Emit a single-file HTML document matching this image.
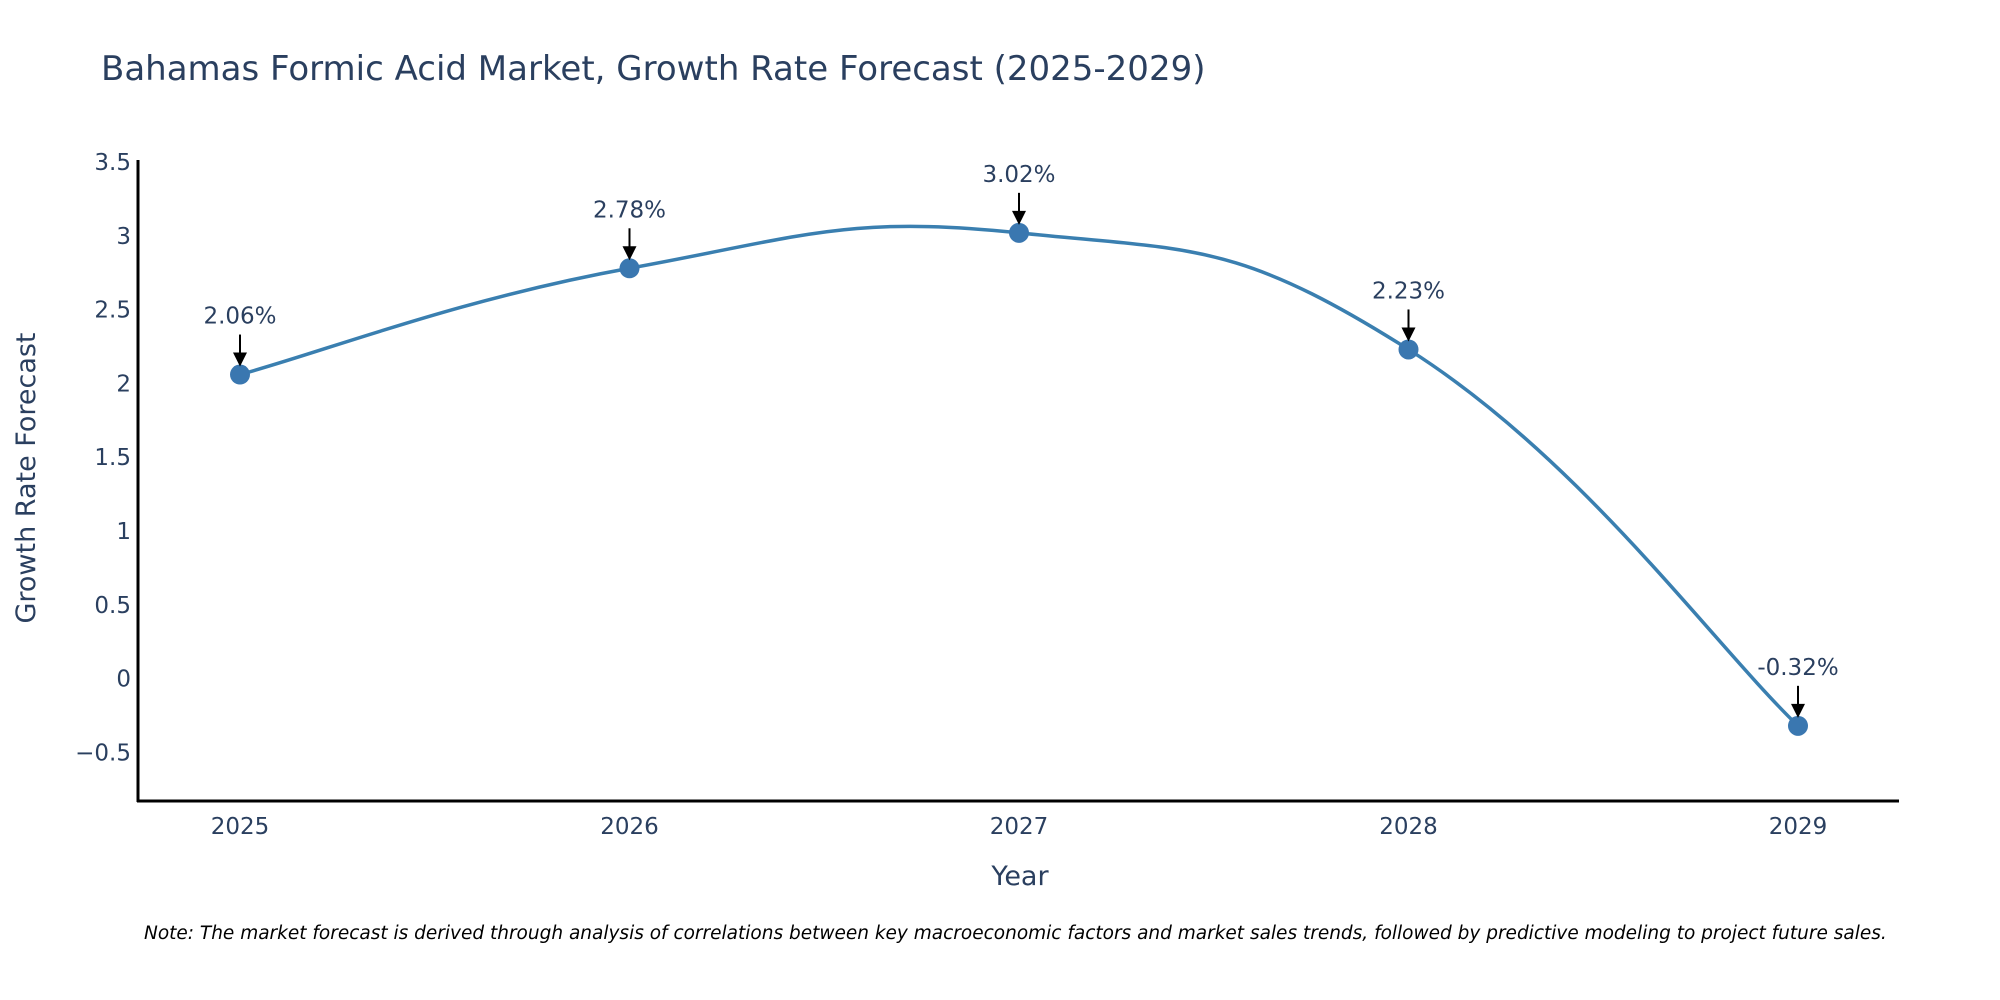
<!DOCTYPE html>
<html><head><meta charset="utf-8"><style>
body{margin:0;background:#fff;overflow:hidden;}
svg{display:block;font-family:"DejaVu Sans","Liberation Sans",sans-serif;}
</style></head><body>
<svg id="chart" width="2000" height="1000">
<text x="101" y="80" font-size="34" fill="#2a3f5f">Bahamas Formic Acid Market, Growth Rate Forecast (2025-2029)</text>
<g id="yticks"></g><g id="xticks"></g>
<line x1="138" y1="160" x2="138" y2="802" stroke="#000" stroke-width="3"/>
<line x1="137" y1="801" x2="1899" y2="801" stroke="#000" stroke-width="3"/>
<text transform="translate(35,478) rotate(-90)" text-anchor="middle" font-size="27" fill="#2a3f5f">Growth Rate Forecast</text>
<text x="1020" y="885" text-anchor="middle" font-size="27" fill="#2a3f5f">Year</text>
<text x="144" y="939" font-size="18.5" font-style="italic" fill="#000">Note: The market forecast is derived through analysis of correlations between key macroeconomic factors and market sales trends, followed by predictive modeling to project future sales.</text>
<g id="plot"></g>
</svg>
<script>
const years=["2025","2026","2027","2028","2029"];
const growth=[2.06,2.78,3.02,2.23,-0.32];
const labels=["2.06%","2.78%","3.02%","2.23%","-0.32%"];
const yTicks=[3.5,3,2.5,2,1.5,1,0.5,0,-0.5];
const yTickLabels=["3.5","3","2.5","2","1.5","1","0.5","0","\u22120.5"];
const NS="http://www.w3.org/2000/svg";
const y=v=>162+(3.5-v)*147.6;
const x=i=>240+i*389.5;
function mk(t,a,p){const e=document.createElementNS(NS,t);for(const k in a)e.setAttribute(k,a[k]);p.appendChild(e);return e;}
const yt=document.getElementById('yticks');
yTicks.forEach((v,i)=>{const t=mk('text',{x:131,y:y(v)+8,'text-anchor':'end','font-size':23,fill:'#2a3f5f'},yt);t.textContent=yTickLabels[i];

});
const xt=document.getElementById('xticks');
years.forEach((v,i)=>{const t=mk('text',{x:x(i),y:834,'text-anchor':'middle','font-size':23,fill:'#2a3f5f'},xt);t.textContent=v;

});
const pl=document.getElementById('plot');
const P=growth.map((v,i)=>[x(i),y(v)]);
let d=`M${P[0][0]},${P[0][1]}`;
const k=1/4.5;
for(let i=0;i<P.length-1;i++){const p0=P[Math.max(i-1,0)],p1=P[i],p2=P[i+1],p3=P[Math.min(i+2,P.length-1)];
const c1=[p1[0]+(p2[0]-p0[0])*k,p1[1]+(p2[1]-p0[1])*k],c2=[p2[0]-(p3[0]-p1[0])*k,p2[1]-(p3[1]-p1[1])*k];
d+=` C${c1[0]},${c1[1]} ${c2[0]},${c2[1]} ${p2[0]},${p2[1]}`;}
const line=mk('path',{d:d,fill:'none',stroke:'#3a7fb0','stroke-width':3.5},pl);


P.forEach((p,i)=>{const c=mk('circle',{cx:p[0],cy:p[1],r:10,fill:'#3a77b0'},pl);


const a=mk('line',{x1:p[0],y1:p[1]-40,x2:p[0],y2:p[1]-20,stroke:'#000','stroke-width':2},pl);


const h=mk('polygon',{points:`${p[0]-7},${p[1]-22} ${p[0]+7},${p[1]-22} ${p[0]},${p[1]-8}`,fill:'#000'},pl);


const t=mk('text',{x:p[0],y:p[1]-51,'text-anchor':'middle','font-size':23,fill:'#2a3f5f'},pl);t.textContent=labels[i];

});
</script>
</body></html>
